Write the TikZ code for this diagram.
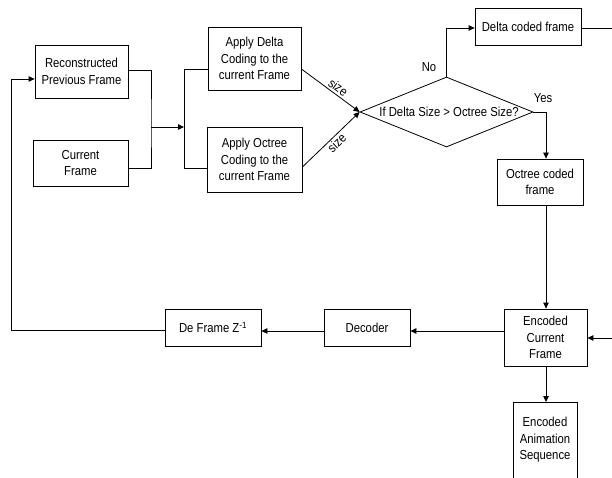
\documentclass[tikz,border=0pt]{standalone}
\usepackage{fontspec}
\setmainfont{Liberation Sans}[FakeStretch=0.87]
\usetikzlibrary{arrows.meta,shapes.geometric}
\begin{document}
\begin{tikzpicture}[x=1pt,y=-1pt,
  font=\fontsize{13}{16.5}\selectfont,
  box/.style={draw, line width=0.8pt, align=center, inner sep=0pt},
  conn/.style={line width=0.8pt},
  arr/.style={line width=0.8pt, -{Triangle[length=6pt,width=5.5pt]}},
  lbl/.style={inner sep=1pt}]
\useasboundingbox (0,0) rectangle (612,478);
% boxes
\node[box, minimum width=93pt, minimum height=53pt] (rpf) at (81.5,71.5) {Reconstructed\\Previous Frame};
\node[box, minimum width=95pt, minimum height=46pt] (cur) at (80.5,163) {Current\\Frame};
\node[box, minimum width=93pt, minimum height=63pt] (ad) at (254.5,58.5) {Apply Delta\\Coding to the\\current Frame};
\node[box, minimum width=95pt, minimum height=65pt] (ao) at (254.5,159.5) {Apply Octree\\Coding to the\\current Frame};
\node[draw, diamond, line width=0.8pt, minimum width=173pt, minimum height=70pt, inner sep=0pt] (dia) at (446.5,112) {};
\node[lbl] (diat) at (449,112) {If Delta Size > Octree Size?};
\node[box, minimum width=106pt, minimum height=37pt] (dcf) at (528,26.5) {Delta coded frame};
\node[box, minimum width=86pt, minimum height=46pt] (ocf) at (540,182) {Octree coded\\frame};
\node[box, minimum width=83pt, minimum height=57pt] (ecf) at (545.5,337.5) {Encoded\\Current\\Frame};
\node[box, minimum width=86pt, minimum height=37pt] (dec) at (367,327.5) {Decoder};
\node[box, minimum width=96pt, minimum height=37pt] (dfz) at (213,327.5) {De Frame Z\textsuperscript{-1}};
\node[align=center, inner sep=0pt] (eas) at (545,440) {Encoded\\Animation\\Sequence};
% open box for encoded animation sequence
\coordinate (easL) at (513,479);
\coordinate (easTL) at (513,402);
\coordinate (easTR) at (577,402);
\coordinate (easR) at (577,479);
\draw[conn] (easL) -- (easTL) -- (easTR) -- (easR);
\coordinate (easT) at (545.5,402);
% connector coordinates
\coordinate (j1) at (151,127);
\coordinate (bar) at (184,127);
\coordinate (barT) at (184,69);
\coordinate (barB) at (184,168);
\coordinate (dcfR) at (613,28);
\coordinate (ecfIn) at (613,338);
\coordinate (lc) at (11,330);
\coordinate (lt) at (11,79);
% connectors
\draw[conn] (rpf.east |- 0,70) -| (j1) |- (cur.east |- 0,168);
\draw[arr] (j1) -- (bar);
\draw[conn] (ad.west |- barT) -- (barT) -- (barB) -- (ao.west |- barB);
\draw[arr] (ad.east |- 0,69) -- node[sloped, above, pos=0.56, inner sep=2pt] {size} (dia.west);
\draw[arr] (ao.east |- 0,167) -- node[sloped, below, pos=0.52, inner sep=1.5pt] {size} (dia.west);
\draw[arr] (dia.north) |- (dcf.west |- 0,28);
\node[lbl] (no) at (429,67) {No};
\node[lbl] (yes) at (543,98) {Yes};
\draw[conn] (dcf.east |- dcfR) -- (dcfR);
\draw[arr] (dia.east) -| (ocf.north -| 546,0);
\draw[arr] (ocf.south -| 546,0) -- (ecf.north -| 546,0);
\draw[arr] (ecfIn) -- (ecf.east |- ecfIn);
\draw[arr] (ecf.west |- 0,331) -- (dec.east |- 0,331);
\draw[arr] (dec.west |- 0,331) -- (dfz.east |- 0,331);
\draw[conn] (dfz.west |- 0,330) -- (lc) -- (lt);
\draw[arr] (lt) -- (rpf.west |- lt);
\draw[arr] (ecf.south -| 546,0) -- (easT -| 546,0);
\end{tikzpicture}
\end{document}
